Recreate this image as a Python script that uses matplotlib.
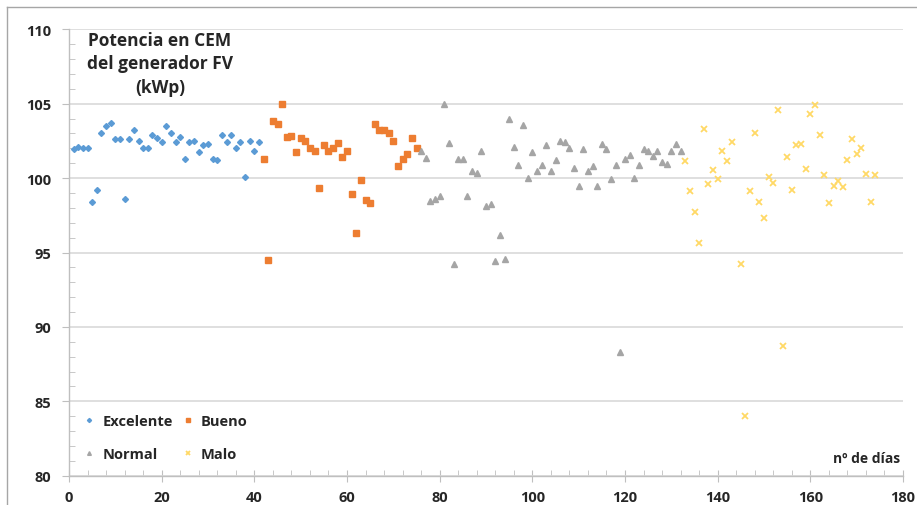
import matplotlib
matplotlib.use("Agg")
import matplotlib.pyplot as plt
from matplotlib.lines import Line2D
from matplotlib.ticker import MultipleLocator

# ---- data ----
exc_days = list(range(1, 42))
exc_vals = [101.95, 102.1, 102.0, 102.05, 98.4, 99.2, 103.0, 103.5, 103.7, 102.6,
            102.6, 98.6, 102.6, 103.2, 102.5, 102.05, 102.05, 102.9, 102.7, 102.4,
            103.5, 103.0, 102.4, 102.75, 101.3, 102.4, 102.5, 101.75, 102.25, 102.3,
            101.3, 101.2, 102.9, 102.4, 102.9, 102.05, 102.45, 100.1, 102.5, 101.8,
            102.45]

bue_days = list(range(42, 76))
bue_vals = [101.3, 94.5, 103.85, 103.65, 105.0, 102.75, 102.8, 101.75, 102.7, 102.5,
            102.0, 101.8, 99.35, 102.2, 101.8, 102.0, 102.35, 101.4, 101.8, 98.9,
            96.3, 99.85, 98.5, 98.3, 103.65, 103.2, 103.2, 103.0, 102.5, 100.8,
            101.3, 101.6, 102.7, 102.0]

nor_days = list(range(76, 133))
nor_vals = [101.8, 101.35, 98.45, 98.6, 98.8, 105.0, 102.35, 94.2, 101.3, 101.3,
            98.8, 100.45, 100.35, 101.85, 98.15, 98.25, 94.45, 96.2, 94.55, 104.0,
            102.1, 100.85, 103.6, 100.0, 101.75, 100.45, 100.9, 102.25, 100.45, 101.2,
            102.5, 102.45, 102.05, 100.65, 99.5, 101.95, 100.45, 100.8, 99.45, 102.3,
            101.95, 99.95, 100.85, 88.3, 101.3, 101.55, 100.0, 100.85, 101.95, 101.8,
            101.5, 101.85, 101.05, 100.95, 101.85, 102.3, 101.8]

mal_days = [133, 134, 135, 136, 137, 138, 139, 140, 141, 142, 143, 145, 146, 147,
            148, 149, 150, 151, 152, 153, 154, 155, 156, 157, 158, 159, 160, 161,
            162, 163, 164, 165, 166, 167, 168, 169, 170, 171, 172, 173, 174]
mal_vals = [101.15, 99.1, 97.75, 95.65, 103.3, 99.6, 100.55, 99.95, 101.85, 101.15,
            102.45, 94.25, 84.0, 99.1, 103.0, 98.4, 97.3, 100.05, 99.7, 104.6,
            88.7, 101.45, 99.2, 102.2, 102.3, 100.6, 104.3, 104.9, 102.9, 100.2,
            98.35, 99.5, 99.8, 99.4, 101.2, 102.65, 101.6, 102.05, 100.3, 98.4,
            100.2]

series_names = ["Excelente", "Bueno", "Normal", "Malo"]
title_text = "Potencia en CEM\ndel generador FV\n(kWp)"
xlabel_text = "nº de días"

# ---- figure ----
fig = plt.figure(figsize=(9.17, 5.06), dpi=100)
ax = fig.add_axes([69 / 917, (506 - 476.7) / 506, 834 / 917, 446.4 / 506])

txt_col = "#262626"
font = "Open Sans"

h_exc, = ax.plot(exc_days, exc_vals, linestyle="none", marker="D", markersize=3.0,
                 color="#5B9BD5", label=series_names[0])
h_bue, = ax.plot(bue_days, bue_vals, linestyle="none", marker="s", markersize=3.8,
                 color="#ED7D31", label=series_names[1])
h_nor, = ax.plot(nor_days, nor_vals, linestyle="none", marker="^", markersize=3.8,
                 color="#A5A5A5", label=series_names[2])
h_mal, = ax.plot(mal_days, mal_vals, linestyle="none", marker="x", markersize=4.8,
                 markeredgewidth=1.3, color="#FFD966", label=series_names[3])

ax.set_xlim(0, 180)
ax.set_ylim(80, 110)
ax.xaxis.set_major_locator(MultipleLocator(20))
ax.xaxis.set_minor_locator(MultipleLocator(4))
ax.yaxis.set_major_locator(MultipleLocator(5))
ax.yaxis.set_minor_locator(MultipleLocator(1))

ax.grid(axis="y", which="major", color="#D9D9D9", linewidth=1.2)
ax.set_axisbelow(True)

for s in ["top", "right"]:
    ax.spines[s].set_visible(False)
for s in ["left", "bottom"]:
    ax.spines[s].set_color("#BFBFBF")
    ax.spines[s].set_linewidth(1.0)

ax.tick_params(axis="x", which="major", direction="inout", length=8, color="#BFBFBF",
               pad=6)
ax.tick_params(axis="x", which="minor", direction="in", length=4, color="#BFBFBF")
ax.tick_params(axis="y", which="major", direction="out", length=5, color="#BFBFBF",
               pad=8)
ax.tick_params(axis="y", which="minor", direction="in", length=4, color="#BFBFBF")

for lab in ax.get_xticklabels() + ax.get_yticklabels():
    lab.set_fontfamily(font)
    lab.set_fontweight("bold")
    lab.set_fontsize(10.5)
    lab.set_color(txt_col)

ax.text(0.109, 0.997, title_text, transform=ax.transAxes, ha="center", va="top",
        fontsize=12.5, fontweight="bold", family=font, color=txt_col,
        linespacing=1.4)

ax.text(0.997, 0.04, xlabel_text, transform=ax.transAxes, ha="right", va="center",
        fontsize=10, fontweight="bold", family=font, color=txt_col)

# legend: row 1 Excelente, Bueno; row 2 Normal, Malo (column-major fill)
leg = ax.legend([h_exc, h_nor, h_bue, h_mal],
                [series_names[0], series_names[2], series_names[1], series_names[3]],
                loc="lower left", bbox_to_anchor=(0.0, 0.0), ncol=2, frameon=False,
                prop={"family": font, "weight": "bold", "size": 10.5},
                handlelength=0.8, handletextpad=0.5, columnspacing=0.6,
                labelspacing=1.3, borderaxespad=0.6, markerscale=0.7)
for t in leg.get_texts():
    t.set_color(txt_col)

# outer chart border (top and left visible)
fig.add_artist(Line2D([7 / 917, 1.0], [1 - 8 / 506, 1 - 8 / 506],
                      transform=fig.transFigure, color="#A6A6A6", linewidth=1.0))
fig.add_artist(Line2D([7 / 917, 7 / 917], [0.0, 1 - 8 / 506],
                      transform=fig.transFigure, color="#A6A6A6", linewidth=1.0))

fig.savefig("out.png", dpi=100)
